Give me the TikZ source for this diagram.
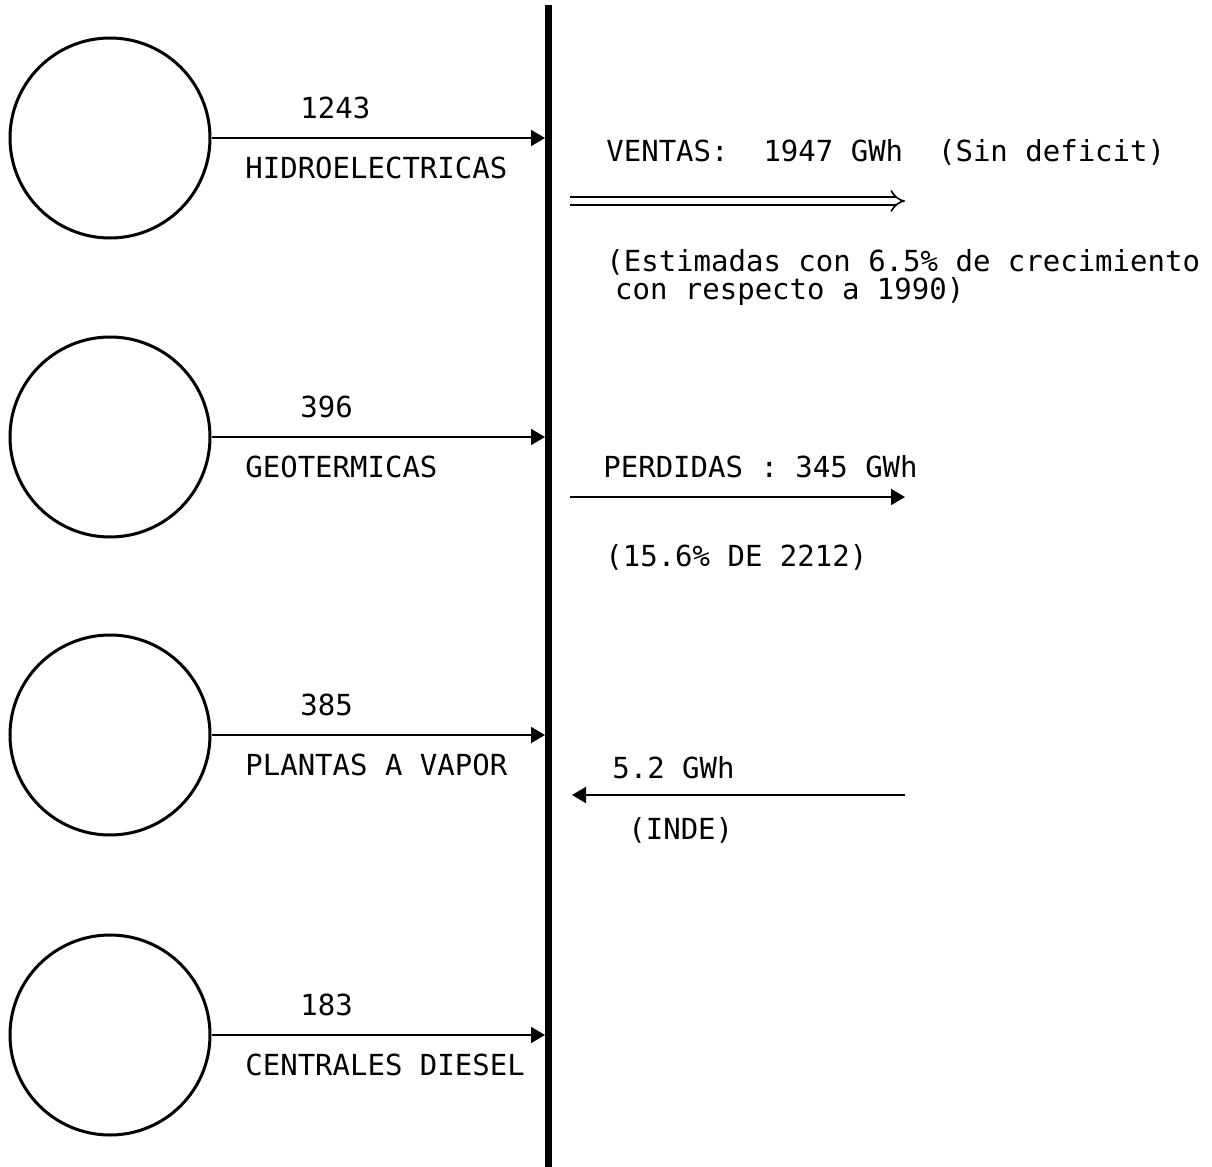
\documentclass[tikz,border=0pt]{standalone}
\usepackage{fontspec}
\newfontfamily\dotfont{DejaVu Sans Mono}
\usetikzlibrary{arrows.meta}

\begin{document}
\begin{tikzpicture}[x=0.5pt,y=-0.5pt,font=\dotfont\fontsize{14.5}{14}\selectfont,
  plant/.style={circle,draw,line width=1.5pt,minimum size=100pt,inner sep=0pt},
  feed/.style={line width=1pt,-{Triangle[length=7pt,width=8pt]}},
  txt/.style={anchor=west,inner sep=0pt}]
% pixel grid of the scan: 1212 wide, 1167 high, y running down
\useasboundingbox (0,0) rectangle (1212,1167);

% the bus bar
\coordinate (bustop) at (548,5);
\coordinate (busbot) at (548,1167);
\draw[line width=3.5pt] (bustop) -- (busbot);

% four kinds of plant feeding the bus
\foreach \y/\v/\l [count=\i] in {138/1243/HIDROELECTRICAS,437/396/GEOTERMICAS,
                                 735/385/PLANTAS A VAPOR,1035/183/CENTRALES DIESEL}{
  \node[plant] (p\i) at (110,\y) {};
  \coordinate (b\i) at (545,\y);
  \draw[feed] (p\i.east) -- (b\i);
  \node[txt] (v\i) at (300,\y-30) {\v};
  \node[txt] (l\i) at (245,\y+30) {\l};}

% sales
\node[txt] (sales) at (606,152) {VENTAS:\ \ 1947 GWh\ \ (Sin deficit)};
\coordinate (s0) at (570,201);
\coordinate (s1) at (905,201);
\draw[double,double distance=3pt,line width=0.8pt,-{Implies[scale=1.3]}] (s0) -- (s1);
\node[txt,align=left] (est) at (606,277)
  {(Estimadas con 6.5\% de crecimiento\\\hspace*{.3em}con respecto a 1990)};

% losses
\node[txt] (loss) at (603,467) {PERDIDAS : 345 GWh};
\coordinate (q0) at (570,497);
\coordinate (q1) at (905,497);
\draw[feed] (q0) -- (q1);
\node[txt] (lossp) at (605,557) {(15.6\% DE 2212)};

% import
\node[txt] (imp) at (612,768) {5.2 GWh};
\coordinate (r0) at (905,795);
\coordinate (r1) at (572,795);
\draw[feed] (r0) -- (r1);
\node[txt] (inde) at (628,830) {(INDE)};
\end{tikzpicture}
\end{document}
